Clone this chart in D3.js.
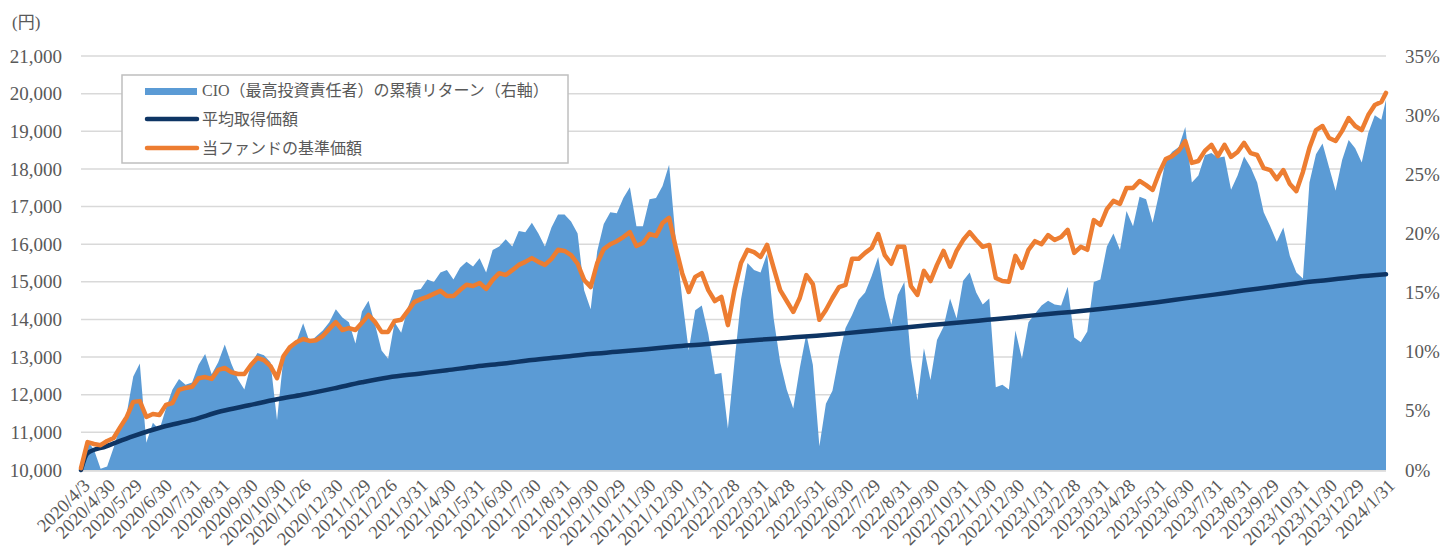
<!DOCTYPE html>
<html>
<head>
<meta charset="UTF-8">
<title>CIO累積リターンと基準価額</title>
<script src="https://d3js.org/d3.v7.min.js"></script>
<style>
  body { margin: 0; background: #fff; }
  svg text { font-family: "Liberation Serif", "Noto Sans CJK JP", serif; fill: #595959; }
</style>
</head>
<body>
<script>
// weekly readings from 2020/4/3, last point = 2024/1/31
var firstDate = "2020/4/3", lastDate = "2024/1/31";

// 当ファンドの基準価額 (円)
var fundNav = [
  10050,10740,10690,10660,10770,10850,11140,11410,11810,11830,
  11410,11490,11460,11730,11780,12130,12180,12210,12440,12470,
  12420,12660,12710,12600,12550,12550,12790,12980,12920,12760,
  12440,13030,13270,13400,13480,13430,13450,13560,13750,13930,
  13720,13770,13720,13910,14120,13930,13670,13670,13960,13990,
  14220,14460,14540,14600,14680,14760,14620,14620,14780,14920,
  14890,14970,14810,15050,15230,15180,15310,15450,15530,15630,
  15530,15450,15610,15850,15820,15710,15480,15050,14860,15500,
  15870,16000,16080,16190,16320,15950,16030,16270,16220,16560,
  16700,15930,15230,14730,15130,15230,14780,14490,14600,13850,
  14780,15500,15850,15790,15660,15980,15370,14780,14490,14200,
  14570,15180,14940,13990,14250,14570,14860,14920,15610,15610,
  15770,15900,16270,15710,15480,15930,15930,14890,14650,15290,
  15020,15450,15820,15400,15820,16110,16320,16110,15930,15980,
  15100,15020,15000,15690,15370,15850,16080,16000,16240,16110,
  16190,16380,15770,15930,15850,16640,16510,16930,17150,17070,
  17490,17490,17680,17570,17440,17890,18260,18340,18480,18740,
  18160,18210,18480,18640,18340,18640,18320,18450,18690,18420,
  18370,18020,17970,17730,17970,17600,17410,17920,18560,19030,
  19140,18820,18740,19010,19350,19140,19030,19430,19700,19780,
  20020
];

// CIO（最高投資責任者）の累積リターン (%)
var cioReturn = [
  0.2,2.5,1.7,0.1,0.3,1.9,3.8,4.8,7.9,9.0,
  2.3,4.0,3.4,5.2,6.8,7.7,7.2,7.4,8.9,9.8,
  8.1,9.1,10.6,9.0,7.7,6.8,8.9,9.9,9.7,9.1,
  4.2,9.6,10.5,10.9,12.4,10.8,11.3,11.8,12.5,13.6,
  12.9,12.5,10.7,13.4,14.3,12.3,10.1,9.4,12.5,11.6,
  13.7,15.2,15.3,16.1,15.9,16.7,16.9,16.1,17.1,17.6,
  17.2,17.9,16.7,18.6,18.9,19.5,18.9,20.2,20.1,20.9,
  20.0,18.9,20.5,21.6,21.6,21.0,20.0,15.2,13.6,18.5,
  20.8,21.8,21.7,23.0,23.9,20.6,20.6,22.9,23.0,24.0,
  25.8,19.6,14.5,10.1,13.5,13.9,11.5,8.1,8.2,3.5,
  9.1,14.4,17.5,16.9,16.7,18.3,12.8,9.1,6.8,5.2,
  8.6,11.5,8.9,2.0,5.6,6.7,9.6,12.0,13.1,14.4,
  15.0,16.4,18.0,14.6,12.3,14.8,15.9,9.4,5.9,10.3,
  7.6,11.0,12.1,14.5,12.8,16.0,16.7,15.0,14.0,14.5,
  7.0,7.2,6.8,11.8,9.4,12.5,13.2,13.9,14.3,14.0,
  13.9,15.5,11.2,10.8,11.7,15.9,16.1,18.9,20.0,18.6,
  21.9,20.6,23.1,22.9,20.9,23.4,26.2,26.9,27.3,29.0,
  24.3,24.9,26.6,26.8,26.4,26.5,23.7,24.9,26.5,25.6,
  24.3,21.8,20.6,19.3,20.5,18.1,16.7,16.2,24.3,26.7,
  27.6,25.6,23.6,26.2,27.9,27.2,26.0,28.5,30.0,29.6,
  31.3
];

// x軸の日付ラベル
var tickLabels = ["2020/4/3","2020/4/30","2020/5/29","2020/6/30","2020/7/31","2020/8/31","2020/9/30",
  "2020/10/30","2020/11/26","2020/12/30","2021/1/29","2021/2/26","2021/3/31","2021/4/30","2021/5/31",
  "2021/6/30","2021/7/30","2021/8/31","2021/9/30","2021/10/29","2021/11/30","2021/12/30","2022/1/31",
  "2022/2/28","2022/3/31","2022/4/28","2022/5/31","2022/6/30","2022/7/29","2022/8/31","2022/9/30",
  "2022/10/31","2022/11/30","2022/12/30","2023/1/31","2023/2/28","2023/3/31","2023/4/28","2023/5/31",
  "2023/6/30","2023/7/31","2023/8/31","2023/9/29","2023/10/31","2023/11/30","2023/12/29","2024/1/31"];

// 平均取得価額 (円)
var avgCostDates = ["2020/4/3","2020/4/10"].concat(tickLabels.slice(1));
var avgCost = [10000,10450,10630,10900,11150,11330,11560,11720,11880,12000,12170,
  12330,12460,12560,12650,12750,12830,12920,13000,13080,13140,13210,13280,
  13340,13400,13460,13510,13570,13630,13700,13780,13850,13920,13990,14060,
  14140,14200,14280,14360,14460,14560,14660,14770,14860,14970,15050,15130,15200];

var leftTicks = d3.range(10000, 21001, 1000);
var rightTicks = d3.range(0, 36, 5);

var w = 1443, h = 552;
var m = {top: 56, right: 57, bottom: 82, left: 81};

var parse = d3.timeParse("%Y/%m/%d");
var start = parse(firstDate), end = parse(lastDate);
var weekDates = d3.range(fundNav.length - 1).map(function(i){ return d3.timeDay.offset(start, i*7); });
weekDates.push(end);

var x = d3.scaleTime().domain([start, end]).range([m.left, w - m.right]);
var yL = d3.scaleLinear().domain([10000, 21000]).range([h - m.bottom, m.top]);
var yR = d3.scaleLinear().domain([0, 35]).range([h - m.bottom, m.top]);

var svg = d3.select("body").append("svg")
    .attr("width", w)
    .attr("height", h);

// grid
svg.append("g")
    .selectAll("line")
    .data(leftTicks)
    .enter()
    .append("line")
    .attr("x1", m.left)
    .attr("x2", w - m.right)
    .attr("y1", function(d){ return yL(d); })
    .attr("y2", function(d){ return yL(d); })
    .attr("stroke", "#d9d9d9")
    .attr("stroke-width", 1.5);

// CIO area
var area = d3.area()
    .x(function(d, i){ return x(weekDates[i]); })
    .y0(yR(0))
    .y1(function(d){ return yR(d); });
svg.append("path")
    .datum(cioReturn)
    .attr("d", area)
    .attr("fill", "#5b9bd5");

// bottom axis line
svg.append("line")
    .attr("x1", m.left).attr("x2", w - m.right)
    .attr("y1", yL(10000) + 1).attr("y2", yL(10000) + 1)
    .attr("stroke", "#d9d9d9").attr("stroke-width", 1.5);

// avg cost line
var costLine = d3.line()
    .x(function(d, i){ return x(parse(avgCostDates[i])); })
    .y(function(d){ return yL(d); })
    .curve(d3.curveMonotoneX);
svg.append("path")
    .datum(avgCost)
    .attr("d", costLine)
    .attr("fill", "none")
    .attr("stroke", "#0e3564")
    .attr("stroke-width", 4.5)
    .attr("stroke-linecap", "round");

// fund nav line
var navLine = d3.line()
    .x(function(d, i){ return x(weekDates[i]); })
    .y(function(d){ return yL(d); });
svg.append("path")
    .datum(fundNav)
    .attr("d", navLine)
    .attr("fill", "none")
    .attr("stroke", "#ed7d31")
    .attr("stroke-width", 4.5)
    .attr("stroke-linejoin", "round")
    .attr("stroke-linecap", "round");

// left axis
var yAxisL = d3.axisLeft(yL).tickValues(leftTicks).tickFormat(d3.format(",")).tickSize(0).tickPadding(19);
var gl = svg.append("g").attr("transform", "translate(" + m.left + ",0)").call(yAxisL);
gl.select(".domain").remove();
gl.selectAll("text").attr("font-size", 19).attr("font-family", null);

// right axis
var yAxisR = d3.axisRight(yR).tickValues(rightTicks).tickFormat(function(d){ return d + "%"; }).tickSize(0).tickPadding(19);
var gr = svg.append("g").attr("transform", "translate(" + (w - m.right) + ",0)").call(yAxisR);
gr.select(".domain").remove();
gr.selectAll("text").attr("font-size", 19).attr("font-family", null);

// x axis
var xAxis = d3.axisBottom(x).tickValues(tickLabels.map(parse)).tickFormat(d3.timeFormat("%Y/%-m/%-d")).tickSize(0);
var gx = svg.append("g").attr("transform", "translate(0," + (h - m.bottom) + ")").call(xAxis);
gx.select(".domain").remove();
gx.selectAll("text")
    .attr("font-size", 18.5)
    .attr("font-family", null)
    .attr("text-anchor", "end")
    .attr("y", 0)
    .attr("dy", "0.35em")
    .attr("transform", "translate(5,12) rotate(-45)");

// unit label
svg.append("text")
    .attr("x", 12)
    .attr("y", 28)
    .attr("font-size", 17)
    .text("(円)");

// legend
var lg = svg.append("g").attr("transform", "translate(122,75)");
lg.append("rect")
    .attr("width", 446)
    .attr("height", 88)
    .attr("fill", "#fff")
    .attr("stroke", "#bfbfbf")
    .attr("stroke-width", 1.5);
lg.append("rect")
    .attr("x", 23).attr("y", 13)
    .attr("width", 52).attr("height", 7)
    .attr("fill", "#5b9bd5");
lg.append("line")
    .attr("x1", 25).attr("x2", 75).attr("y1", 44).attr("y2", 44)
    .attr("stroke", "#0e3564").attr("stroke-width", 4.5).attr("stroke-linecap", "round");
lg.append("line")
    .attr("x1", 25).attr("x2", 75).attr("y1", 73).attr("y2", 73)
    .attr("stroke", "#ed7d31").attr("stroke-width", 4.5).attr("stroke-linecap", "round");
var legendNames = ["CIO（最高投資責任者）の累積リターン（右軸）", "平均取得価額", "当ファンドの基準価額"];
lg.selectAll("text.lgt")
    .data(legendNames)
    .enter()
    .append("text")
    .attr("class", "lgt")
    .attr("x", 80)
    .attr("y", function(d, i){ return 15 + i*29; })
    .attr("dy", "0.35em")
    .attr("font-size", 16)
    .text(function(d){ return d; });
</script>
</body>
</html>
